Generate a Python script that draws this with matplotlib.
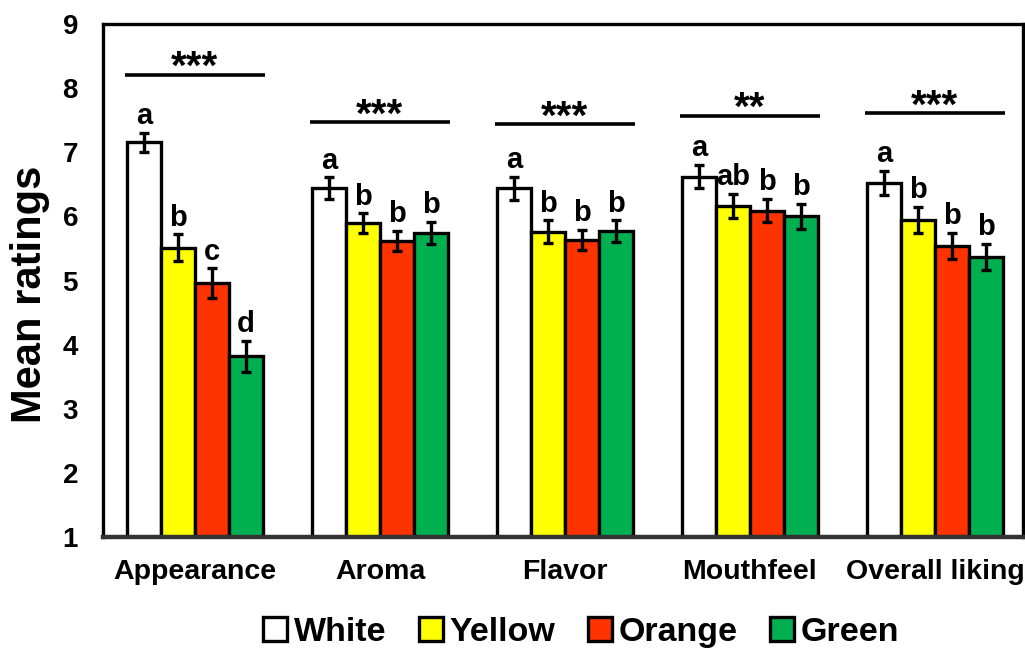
import matplotlib
matplotlib.use("Agg")
import matplotlib.pyplot as plt
import numpy as np

plt.rcParams.update({
    "font.family": ["Liberation Sans", "DejaVu Sans"],
    "font.weight": "bold",
})

attributes = ["Appearance", "Aroma", "Flavor", "Mouthfeel", "Overall liking"]
colours = ["White", "Yellow", "Orange", "Green"]
fills = ["#FFFFFF", "#FFFF00", "#FF3300", "#00B050"]

means = {
    "White":  [7.16, 6.44, 6.44, 6.62, 6.52],
    "Yellow": [5.51, 5.90, 5.76, 6.16, 5.95],
    "Orange": [4.96, 5.62, 5.63, 6.09, 5.54],
    "Green":  [3.82, 5.74, 5.77, 6.00, 5.37],
}
sems = {
    "White":  [0.15, 0.17, 0.18, 0.18, 0.19],
    "Yellow": [0.21, 0.15, 0.18, 0.19, 0.20],
    "Orange": [0.23, 0.16, 0.16, 0.18, 0.20],
    "Green":  [0.24, 0.17, 0.17, 0.20, 0.20],
}
letters = {
    "White":  ["a", "a", "a", "a", "a"],
    "Yellow": ["b", "b", "b", "ab", "b"],
    "Orange": ["c", "b", "b", "b", "b"],
    "Green":  ["d", "b", "b", "b", "b"],
}
sig_marks = ["***", "***", "***", "**", "***"]
sig_levels = [8.21, 7.47, 7.44, 7.57, 7.61]

fig = plt.figure(figsize=(10.25, 6.53), dpi=100)
ax = fig.add_axes([0.1005, 0.1776, 0.8975, 0.7854])

x = np.arange(len(attributes))
w = 0.184
offsets = (np.arange(len(colours)) - 1.5) * w

for name, fc, off in zip(colours, fills, offsets):
    ax.bar(x + off, np.array(means[name]) - 1, bottom=1, width=w, color=fc,
           edgecolor="black", linewidth=2.4, label=name, zorder=2)
    ax.errorbar(x + off, means[name], yerr=sems[name], fmt="none",
                ecolor="black", elinewidth=2.4, capsize=3.5, capthick=2.4, zorder=3)
    for xi, m, s, t in zip(x + off, means[name], sems[name], letters[name]):
        ax.annotate(t, (xi, m + s), xytext=(0, 2), textcoords="offset points",
                    ha="center", va="bottom", fontsize=21, fontweight="bold")

# significance bars over each attribute group
half = 2 * w
for xi, lvl, mark in zip(x, sig_levels, sig_marks):
    ax.plot([xi - half - 0.01, xi + half + 0.01], [lvl, lvl], color="black",
            lw=2.6, solid_capstyle="butt", zorder=3)
    ax.annotate(mark, (xi, lvl), xytext=(0, -3), textcoords="offset points",
                ha="center", va="baseline", fontsize=29, fontweight="bold")

ax.set_xlim(-0.497, 4.476)
ax.set_ylim(1, 9)
ax.set_yticks(range(1, 10))
ax.set_xticks(x)
ax.set_xticklabels(attributes, fontsize=20.5, fontweight="bold")
ax.tick_params(axis="y", labelsize=20, length=0, pad=18)
ax.tick_params(axis="x", length=0, pad=16)
for lab in ax.get_yticklabels():
    lab.set_fontweight("bold")
ax.set_ylabel("Mean ratings", fontsize=30, fontweight="bold")
ax.yaxis.set_label_coords(-0.058, 0.474)

for s in ax.spines.values():
    s.set_linewidth(2.4)
ax.spines["bottom"].set_color("#333333")
ax.spines["bottom"].set_linewidth(3.2)

fig.legend(loc="center", bbox_to_anchor=(0.567, 0.032), ncol=4, frameon=False,
           prop={"size": 24.5, "weight": "bold"}, handlelength=0.7,
           handleheight=0.7, handletextpad=0.2, columnspacing=0.95)

fig.savefig("out.png", dpi=100)
